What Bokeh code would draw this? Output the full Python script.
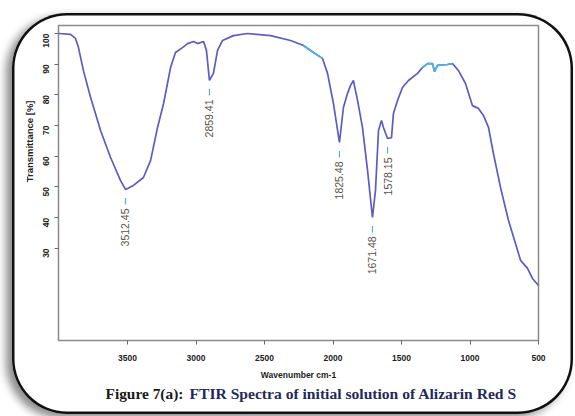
import math
from bokeh.plotting import figure
from bokeh.layouts import column
from bokeh.models import Range1d, FixedTicker, Label, Title
from bokeh.core.properties import value
from bokeh.embed import file_html
from bokeh.resources import INLINE

# ---- data ----
wavenumber = [4000, 3916, 3880, 3858, 3822, 3770, 3697, 3624, 3551, 3515,
              3457, 3384, 3332, 3281, 3237, 3186, 3150, 3099, 3062, 3018,
              2989, 2945, 2924, 2902, 2873, 2843, 2807, 2727, 2624, 2456,
              2310, 2216, 2143, 2077, 2040, 1997, 1953, 1924, 1894, 1872,
              1851, 1836, 1821, 1785, 1748, 1712, 1690, 1668, 1646, 1632,
              1602, 1573, 1559, 1529, 1493, 1449, 1383, 1347, 1310, 1274,
              1259, 1237, 1164, 1128, 1084, 1033, 982, 938, 902, 865,
              829, 777, 719, 668, 631, 580, 544, 500]
transmittance = [100, 99.7, 98.4, 95.4, 87.9, 79.2, 68.4, 59.6, 52.1, 49.2,
                 50.5, 53.1, 58.6, 69.4, 77.2, 88.9, 93.8, 95.4, 96.7, 97.4,
                 96.7, 97.4, 94.5, 84.7, 87.0, 94.5, 97.7, 99.3, 100, 99.3,
                 97.7, 96.1, 93.8, 91.9, 87.0, 77.2, 64.5, 75.9, 80.5, 83.1,
                 84.7, 81.4, 78.2, 69.4, 55.4, 40.1, 48.9, 68.4, 71.7, 69.4,
                 65.8, 66.1, 73.9, 78.2, 82.4, 84.7, 87.0, 88.9, 90.2, 90.2,
                 87.6, 89.6, 89.9, 90.2, 87.9, 83.7, 76.5, 75.6, 73.3, 69.4,
                 60.9, 49.8, 39.1, 31.6, 26.1, 23.5, 20.2, 17.9]
light_ranges = [(2216, 2077), (1347, 1128)]

peak_labels = ["3512.45", "2859.41", "1825.48", "1671.48", "1578.15"]
peak_x = [3515, 2902, 1953, 1712, 1602]
peak_y = [49.2, 84.7, 64.5, 40.1, 65.8]

x_ticks = [3500, 3000, 2500, 2000, 1500, 1000, 500]
y_ticks = [30, 40, 50, 60, 70, 80, 90, 100]

x_title = "Wavenumber cm-1"
y_title = "Transmittance [%]"
caption_a = "Figure 7(a):"
caption_b = "FTIR Spectra of initial solution of Alizarin Red S"

# ---- main figure ----
p = figure(width=561, height=370, output_backend="svg", toolbar_location=None,
           x_range=Range1d(4004, 500), y_range=Range1d(0, 102.6),
           min_border_left=46, min_border_right=35, min_border_top=12,
           min_border_bottom=43)
p.border_fill_color = None
p.background_fill_color = "white"
p.outline_line_color = "#8a8a8a"
p.outline_line_width = 1.5
p.grid.visible = False

for ax in (p.xaxis[0], p.yaxis[0]):
    ax.axis_line_color = "#8a8a8a"
    ax.major_tick_line_color = "#666666"
    ax.minor_tick_line_color = None
    ax.major_tick_out = 4
    ax.major_tick_in = 0
    ax.major_label_text_font = "Liberation Sans"
    ax.major_label_text_font_style = "bold"
    ax.major_label_text_font_size = "8.5px"
    ax.major_label_text_color = "#222222"

p.xaxis.ticker = FixedTicker(ticks=x_ticks)
p.yaxis.ticker = FixedTicker(ticks=y_ticks)
p.yaxis.major_label_orientation = math.pi / 2
p.xaxis.major_label_standoff = 10
p.yaxis.major_label_standoff = 8
p.xaxis.axis_label = x_title
p.xaxis.axis_label_text_font = "Liberation Sans"
p.xaxis.axis_label_text_font_style = "bold"
p.xaxis.axis_label_text_font_size = "8.5px"
p.xaxis.axis_label_text_color = "#222222"
p.xaxis.axis_label_standoff = 6

p.add_layout(Title(text=y_title, align="right", offset=75, standoff=5,
                   text_font="Liberation Sans", text_font_style="bold",
                   text_font_size="9.5px", text_color="#222222"), "left")

# spectrum
p.line(wavenumber, transmittance, line_color="#5c5cc4", line_width=1.7)
for hi, lo in light_ranges:
    xs = [w for w in wavenumber if lo <= w <= hi]
    ys = [t for w, t in zip(wavenumber, transmittance) if lo <= w <= hi]
    p.line(xs, ys, line_color="#48b4ea", line_width=1.7)

# peak markers and labels
p.segment(x0=peak_x, y0=[y - 2.8 for y in peak_y], x1=peak_x,
          y1=[y - 4.9 for y in peak_y], line_color="#55aee0", line_width=1.2)
p.text(x=peak_x, y=peak_y, text=peak_labels, angle=math.pi / 2,
       text_align="right", text_baseline="middle", y_offset=19,
       text_font=value("Liberation Sans"), text_font_size="10.5px",
       text_color="#5a5248")

# ---- caption strip (its frame is aligned with the main frame) ----
cap = figure(width=561, height=31, output_backend="svg", toolbar_location=None,
             x_range=Range1d(0, 1), y_range=Range1d(0, 1), min_border=0,
             x_axis_type=None, y_axis_type=None)
cap.outline_line_color = None
cap.border_fill_color = None
cap.background_fill_color = None
cap.grid.visible = False
cap.add_layout(Label(x=47, y=21, x_units="screen", y_units="screen",
                     text=caption_a, text_align="left", text_baseline="middle",
                     text_font="Liberation Serif", text_font_style="bold",
                     text_font_size="15.4px", text_color="#1a1a1a"))
cap.add_layout(Label(x=131, y=21, x_units="screen", y_units="screen",
                     text=caption_b, text_align="left", text_baseline="middle",
                     text_font="Liberation Serif", text_font_style="bold",
                     text_font_size="15.6px", text_color="#1f2a5c"))

layout = column(p, cap, spacing=0, margin=(13, 0, 0, 12))
layout.styles = {"border-radius": "55px", "background-color": "white",
                 "box-shadow": "inset 0 0 0 2.5px #111, -6px 4px 9px rgba(0,0,0,0.45)"}

open("out.html", "w").write(file_html(layout, INLINE))
